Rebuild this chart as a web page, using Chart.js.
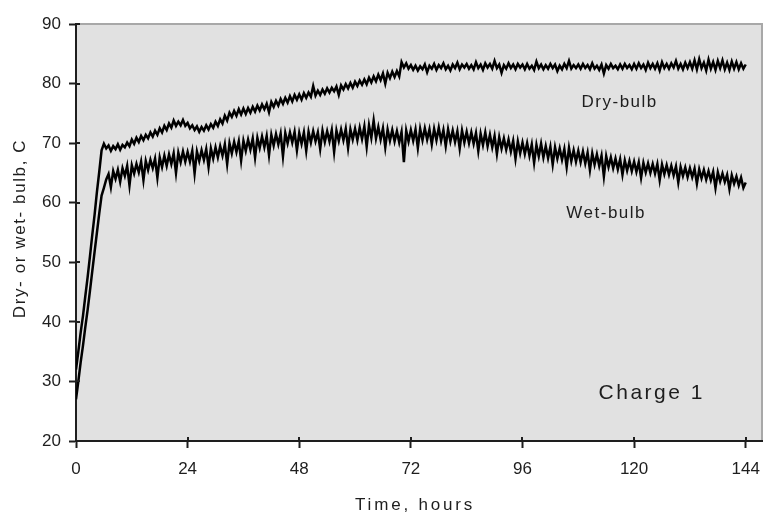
<!DOCTYPE html>
<html>
<head>
<meta charset="utf-8">
<script src="https://cdn.jsdelivr.net/npm/chart.js@4/dist/chart.umd.min.js"></script>
<style>
  html, body { margin: 0; padding: 0; background: #fff; }
  canvas { display: block; }
</style>
</head>
<body>
<canvas id="chart" width="765" height="514"></canvas>
<script>
// time since start of charge, hours (logged every half hour)
const hours = [
  0, 0.5, 1, 1.5, 2, 2.5, 3, 3.5, 4, 4.5, 5, 5.5, 6, 6.5, 7, 7.5, 8, 8.5, 9, 9.5, 10, 10.5, 11, 11.5,
  12, 12.5, 13, 13.5, 14, 14.5, 15, 15.5, 16, 16.5, 17, 17.5, 18, 18.5, 19, 19.5, 20, 20.5, 21, 21.5, 22, 22.5, 23, 23.5,
  24, 24.5, 25, 25.5, 26, 26.5, 27, 27.5, 28, 28.5, 29, 29.5, 30, 30.5, 31, 31.5, 32, 32.5, 33, 33.5, 34, 34.5, 35, 35.5,
  36, 36.5, 37, 37.5, 38, 38.5, 39, 39.5, 40, 40.5, 41, 41.5, 42, 42.5, 43, 43.5, 44, 44.5, 45, 45.5, 46, 46.5, 47, 47.5,
  48, 48.5, 49, 49.5, 50, 50.5, 51, 51.5, 52, 52.5, 53, 53.5, 54, 54.5, 55, 55.5, 56, 56.5, 57, 57.5, 58, 58.5, 59, 59.5,
  60, 60.5, 61, 61.5, 62, 62.5, 63, 63.5, 64, 64.5, 65, 65.5, 66, 66.5, 67, 67.5, 68, 68.5, 69, 69.5, 70, 70.5, 71, 71.5,
  72, 72.5, 73, 73.5, 74, 74.5, 75, 75.5, 76, 76.5, 77, 77.5, 78, 78.5, 79, 79.5, 80, 80.5, 81, 81.5, 82, 82.5, 83, 83.5,
  84, 84.5, 85, 85.5, 86, 86.5, 87, 87.5, 88, 88.5, 89, 89.5, 90, 90.5, 91, 91.5, 92, 92.5, 93, 93.5, 94, 94.5, 95, 95.5,
  96, 96.5, 97, 97.5, 98, 98.5, 99, 99.5, 100, 100.5, 101, 101.5, 102, 102.5, 103, 103.5, 104, 104.5, 105, 105.5, 106, 106.5, 107, 107.5,
  108, 108.5, 109, 109.5, 110, 110.5, 111, 111.5, 112, 112.5, 113, 113.5, 114, 114.5, 115, 115.5, 116, 116.5, 117, 117.5, 118, 118.5, 119, 119.5,
  120, 120.5, 121, 121.5, 122, 122.5, 123, 123.5, 124, 124.5, 125, 125.5, 126, 126.5, 127, 127.5, 128, 128.5, 129, 129.5, 130, 130.5, 131, 131.5,
  132, 132.5, 133, 133.5, 134, 134.5, 135, 135.5, 136, 136.5, 137, 137.5, 138, 138.5, 139, 139.5, 140, 140.5, 141, 141.5, 142, 142.5, 143, 143.5, 144
];

// dry-bulb temperature, C
const dryBulb = [
  32, 35, 38.2, 41, 44.3, 47.5, 51, 54.6, 58, 61.8, 65.2, 68.8, 69.9, 69.1, 69.6, 68.7, 69.5, 69.0, 69.8, 68.9, 69.7, 69.3, 70.1, 69.5,
  70.6, 69.9, 70.9, 70.2, 71.2, 70.5, 71.4, 70.8, 71.8, 71.1, 72.1, 71.4, 72.5, 71.8, 72.9, 72.2, 73.3, 72.6, 73.8, 72.9, 73.6, 73.0, 73.9, 72.9,
  73.4, 72.5, 73.0, 72.2, 72.8, 71.9, 72.7, 72.1, 73.0, 72.3, 73.2, 72.6, 73.6, 72.9, 74.0, 73.3, 74.6, 73.8, 75.1, 74.4, 75.4, 74.6, 75.7, 74.8,
  75.8, 74.9, 75.9, 75.1, 76.1, 75.3, 76.3, 75.5, 76.5, 75.7, 76.6, 75.2, 76.9, 76.1, 77.1, 76.3, 77.4, 76.6, 77.6, 76.8, 77.9, 77.0, 78.1, 77.3,
  78.2, 77.3, 78.4, 77.6, 78.5, 77.8, 79.6, 78.0, 78.8, 78.1, 79.0, 78.3, 79.2, 78.5, 79.3, 78.7, 79.5, 78.1, 79.7, 79.0, 79.9, 79.2, 80.1, 79.3,
  80.3, 79.6, 80.5, 79.8, 80.7, 79.9, 81.0, 80.2, 81.2, 80.4, 81.5, 80.6, 81.7, 80.0, 81.8, 80.9, 82.0, 81.1, 82.1, 81.2, 83.6, 82.7, 83.4, 82.5,
  83.1, 82.3, 83.0, 82.2, 82.9, 82.4, 83.2, 81.9, 83.0, 82.5, 83.3, 82.3, 83.1, 82.6, 83.4, 82.4, 83.0, 82.2, 83.2, 82.6, 83.5, 82.4, 83.2, 82.7,
  83.3, 82.5, 83.1, 82.4, 83.6, 82.6, 83.2, 82.3, 83.4, 82.7, 83.3, 82.5, 83.8, 82.6, 83.2, 81.8, 83.1, 82.5, 83.4, 82.6, 83.2, 82.4, 83.3, 82.7,
  83.2, 82.4, 83.3, 82.5, 83.0, 82.3, 83.7, 82.6, 83.2, 82.4, 83.1, 82.5, 83.3, 82.6, 83.2, 82.1, 83.0, 82.4, 83.3, 82.6, 83.8, 82.5, 83.1, 82.6,
  83.2, 82.5, 83.3, 82.6, 83.1, 82.4, 83.4, 82.5, 83.0, 82.3, 83.2, 81.7, 83.1, 82.5, 83.3, 82.6, 83.0, 82.4, 83.2, 82.5, 83.3, 82.6, 83.1, 82.4,
  83.3, 82.5, 83.4, 82.6, 83.2, 82.3, 83.5, 82.6, 83.3, 82.5, 83.4, 82.2, 83.6, 82.6, 83.3, 82.5, 83.4, 82.7, 83.8, 82.5, 83.3, 82.4, 83.5, 82.6,
  83.6, 82.5, 83.9, 82.4, 84.1, 82.6, 83.5, 82.2, 84.0, 82.5, 83.6, 82.3, 83.8, 82.6, 83.9, 82.4, 83.5, 82.3, 83.7, 82.5, 83.6, 82.4, 83.4, 82.5, 83.2
];

// wet-bulb temperature, C
const wetBulb = [
  27, 30, 33.2, 36, 39.1, 42, 45.2, 48.5, 51.8, 55, 58.2, 61.2, 62.5, 63.9, 64.8, 62.6, 65.3, 64.0, 65.5, 63.5, 65.8, 64.5, 66.2, 62.9,
  66.3, 64.9, 66.5, 65.1, 66.9, 63.8, 67.0, 65.5, 67.2, 65.8, 67.4, 64.2, 67.6, 66.0, 67.9, 66.2, 68.1, 66.5, 68.3, 65.0, 68.4, 66.8, 68.6, 66.9,
  68.5, 66.9, 68.7, 64.9, 68.6, 67.0, 68.8, 67.2, 69.0, 66.0, 69.1, 67.4, 69.3, 67.6, 69.5, 67.9, 69.8, 66.5, 70.0, 68.3, 70.2, 68.5, 70.3, 67.1,
  70.4, 68.7, 70.6, 68.9, 70.8, 67.6, 70.9, 69.2, 71.1, 69.3, 71.2, 68.0, 71.4, 69.6, 71.5, 69.8, 71.6, 67.8, 71.7, 70.0, 71.8, 70.1, 71.9, 68.8,
  71.7, 69.9, 71.8, 68.7, 71.9, 70.1, 72.0, 70.3, 71.8, 69.0, 72.1, 70.2, 72.0, 70.3, 72.2, 68.5, 72.1, 70.4, 72.3, 70.5, 72.4, 69.2, 72.3, 70.6,
  72.4, 70.5, 72.6, 70.7, 72.8, 69.4, 73.0, 70.9, 73.8, 70.8, 72.7, 70.6, 72.5, 69.3, 72.3, 70.4, 72.2, 70.3, 72.0, 70.1, 71.9, 66.8, 72.1, 70.3,
  72.2, 70.4, 72.3, 69.2, 72.4, 70.5, 72.5, 70.6, 72.3, 69.8, 72.4, 70.5, 72.6, 70.4, 72.2, 69.5, 72.3, 70.3, 72.1, 70.2, 72.0, 69.1, 72.1, 70.1,
  71.9, 70.0, 71.8, 69.9, 71.7, 68.7, 71.6, 69.7, 71.8, 69.5, 71.4, 69.3, 71.2, 68.2, 71.0, 69.1, 70.8, 68.9, 70.6, 68.6, 70.4, 67.4, 70.3, 68.3,
  70.1, 68.2, 70.0, 67.9, 69.8, 66.7, 69.7, 67.8, 69.9, 67.6, 69.5, 67.5, 69.4, 66.4, 69.3, 67.4, 69.1, 67.2, 69.0, 66.0, 69.2, 67.0, 68.8, 66.9,
  68.7, 66.8, 68.6, 66.6, 68.4, 65.5, 68.3, 66.4, 68.1, 66.2, 67.9, 64.4, 67.8, 66.0, 67.6, 65.8, 67.4, 65.6, 67.3, 64.7, 67.1, 65.4, 67.0, 65.3,
  66.9, 65.2, 66.8, 64.2, 66.7, 65.1, 66.6, 65.0, 66.5, 64.9, 66.5, 63.8, 66.4, 64.8, 66.3, 64.7, 66.2, 64.6, 66.1, 63.4, 66.0, 64.5, 65.9, 64.3,
  65.8, 64.3, 65.7, 63.2, 65.6, 64.1, 65.5, 63.9, 65.3, 63.8, 65.2, 62.5, 65.1, 63.6, 64.9, 63.5, 64.7, 62.3, 64.6, 63.2, 64.4, 62.9, 64.2, 62.5, 63.4
];

const xTicks = [0, 24, 48, 72, 96, 120, 144];
const yTicks = [20, 30, 40, 50, 60, 70, 80, 90];

const FONT = 'Liberation Sans, Arial, sans-serif';
const INK = '#1e1e1e';

// grey plot area with thin frame on top and right
const plotBackground = {
  id: 'plotBackground',
  beforeDraw(chart) {
    const { ctx, chartArea: a } = chart;
    ctx.save();
    ctx.fillStyle = '#e1e1e1';
    ctx.fillRect(a.left, a.top, a.right - a.left, a.bottom - a.top);
    ctx.strokeStyle = '#a8a8a8';
    ctx.lineWidth = 2;
    ctx.beginPath();
    ctx.moveTo(a.left, a.top);
    ctx.lineTo(a.right, a.top);
    ctx.lineTo(a.right, a.bottom);
    ctx.stroke();
    ctx.restore();
  },
  // tick marks poke a little way into the plot as well
  afterDraw(chart) {
    const { ctx, chartArea: a, scales: { x, y } } = chart;
    ctx.save();
    ctx.strokeStyle = INK;
    ctx.lineWidth = 2;
    ctx.beginPath();
    xTicks.forEach(v => {
      const px = Math.round(x.getPixelForValue(v));
      ctx.moveTo(px, a.bottom);
      ctx.lineTo(px, a.bottom - 4);
    });
    yTicks.forEach(v => {
      const py = Math.round(y.getPixelForValue(v));
      ctx.moveTo(a.left, py);
      ctx.lineTo(a.left + 4, py);
    });
    ctx.stroke();
    ctx.restore();
  }
};

// axis titles and notes, spaced out like the old plotting program did
const notes = {
  id: 'notes',
  afterDraw(chart) {
    const { ctx, chartArea: a, scales: { x, y } } = chart;
    ctx.save();
    ctx.fillStyle = INK;
    ctx.textAlign = 'center';
    ctx.textBaseline = 'middle';

    ctx.font = '17px ' + FONT;
    ctx.letterSpacing = '1.5px';
    ctx.fillText('Dry-bulb', x.getPixelForValue(116.9), y.getPixelForValue(76.9));
    ctx.fillText('Wet-bulb', x.getPixelForValue(114.0), y.getPixelForValue(58.2));

    ctx.letterSpacing = '2.8px';
    ctx.fillText('Time, hours', (a.left + a.right) / 2 - 4, 505);

    ctx.letterSpacing = '1.6px';
    ctx.save();
    ctx.translate(20, (a.top + a.bottom) / 2 - 4);
    ctx.rotate(-Math.PI / 2);
    ctx.fillText('Dry- or wet- bulb, C', 0, 0);
    ctx.restore();

    ctx.font = '21px ' + FONT;
    ctx.letterSpacing = '2.5px';
    ctx.fillText('Charge 1', x.getPixelForValue(123.8), y.getPixelForValue(28.1));
    ctx.restore();
  }
};

new Chart(document.getElementById('chart'), {
  type: 'line',
  data: {
    labels: hours,
    datasets: [
      { label: 'Dry-bulb', data: dryBulb, borderColor: '#000', borderWidth: 2.5, pointRadius: 0, tension: 0 },
      { label: 'Wet-bulb', data: wetBulb, borderColor: '#000', borderWidth: 2.5, pointRadius: 0, tension: 0 }
    ]
  },
  options: {
    responsive: false,
    animation: false,
    devicePixelRatio: 1,
    layout: { padding: { top: 24, right: 3, left: 0, bottom: 0 } },
    plugins: {
      legend: { display: false },
      tooltip: { enabled: false }
    },
    scales: {
      x: {
        type: 'linear',
        min: 0,
        max: 147.5,
        afterBuildTicks: s => { s.ticks = xTicks.map(v => ({ value: v })); },
        afterFit: s => { s.height = 73; s.paddingLeft = 0; s.paddingRight = 0; },
        grid: { drawOnChartArea: false, tickLength: 7, color: INK, tickWidth: 2 },
        border: { color: INK, width: 2 },
        ticks: { color: INK, font: { family: FONT, size: 17 }, padding: 11, maxRotation: 0 }
      },
      y: {
        min: 20,
        max: 90,
        afterBuildTicks: s => { s.ticks = yTicks.map(v => ({ value: v })); },
        afterFit: s => { s.width = 76; },
        grid: { drawOnChartArea: false, tickLength: 7, color: INK, tickWidth: 2 },
        border: { color: INK, width: 2 },
        ticks: { color: INK, font: { family: FONT, size: 17 }, padding: 8 }
      }
    }
  },
  plugins: [plotBackground, notes]
});
</script>
</body>
</html>
